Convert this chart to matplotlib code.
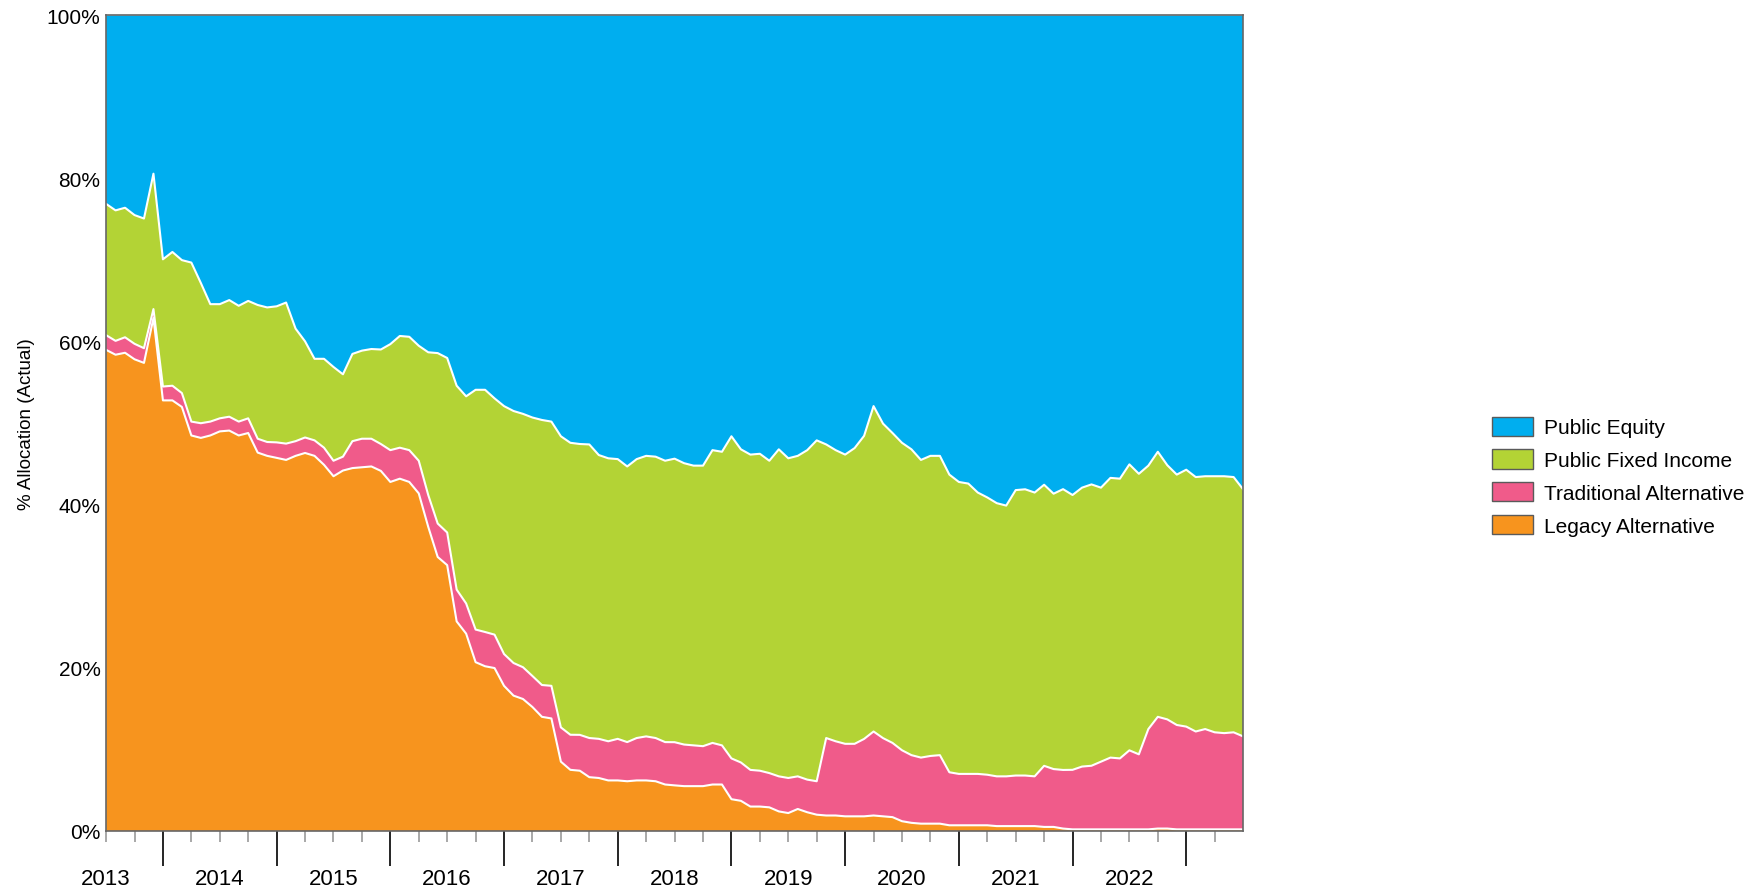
import matplotlib
matplotlib.use("Agg")
import matplotlib.pyplot as plt
from matplotlib.ticker import PercentFormatter
import numpy as np

# monthly allocation (% of total), Jan 2013 .. Jan 2023
legacy = [59.0, 58.4, 58.7, 57.9, 57.4, 62.9, 52.8, 52.8, 52.0, 48.5,
          48.2, 48.5, 49.0, 49.1, 48.5, 48.8, 46.4, 46.0, 45.8, 45.5,
          46.0, 46.4, 46.0, 44.9, 43.5, 44.2, 44.5, 44.6, 44.7, 44.2,
          42.8, 43.2, 42.8, 41.4, 37.3, 33.6, 32.6, 25.7, 24.2, 20.7,
          20.2, 20.0, 17.8, 16.6, 16.2, 15.2, 14.0, 13.8, 8.5, 7.5,
          7.4, 6.6, 6.5, 6.2, 6.2, 6.1, 6.2, 6.2, 6.1, 5.7,
          5.6, 5.5, 5.5, 5.5, 5.7, 5.7, 3.9, 3.7, 3.0, 3.0,
          2.9, 2.4, 2.2, 2.7, 2.3, 2.0, 1.9, 1.9, 1.8, 1.8,
          1.8, 1.9, 1.8, 1.7, 1.2, 1.0, 0.9, 0.9, 0.9, 0.7,
          0.7, 0.7, 0.7, 0.7, 0.6, 0.6, 0.6, 0.6, 0.6, 0.5,
          0.5, 0.3, 0.2, 0.2, 0.2, 0.2, 0.2, 0.2, 0.2, 0.2,
          0.2, 0.3, 0.3, 0.2, 0.2, 0.2, 0.2, 0.2, 0.2, 0.2, 0.2]
traditional = [1.8, 1.7, 1.9, 1.9, 1.8, 1.1, 1.7, 1.8, 1.7, 1.7,
               1.8, 1.7, 1.6, 1.7, 1.7, 1.8, 1.7, 1.7, 1.9, 2.0,
               1.8, 1.9, 1.9, 2.1, 1.9, 1.7, 3.3, 3.5, 3.4, 3.3,
               3.9, 3.8, 3.9, 4.0, 3.9, 4.1, 4.0, 3.9, 3.7, 4.0,
               4.2, 4.1, 3.9, 4.0, 3.9, 3.8, 3.9, 4.0, 4.2, 4.3,
               4.4, 4.8, 4.8, 4.8, 5.1, 4.8, 5.2, 5.4, 5.3, 5.2,
               5.3, 5.1, 5.0, 4.9, 5.1, 4.8, 5.0, 4.7, 4.5, 4.4,
               4.2, 4.3, 4.3, 4.0, 4.0, 4.1, 9.5, 9.1, 8.9, 8.9,
               9.5, 10.3, 9.6, 9.1, 8.7, 8.3, 8.1, 8.3, 8.4, 6.5,
               6.3, 6.3, 6.3, 6.2, 6.1, 6.1, 6.2, 6.2, 6.1, 7.5,
               7.1, 7.2, 7.3, 7.7, 7.8, 8.3, 8.8, 8.7, 9.7, 9.2,
               12.3, 13.7, 13.4, 12.8, 12.6, 12.0, 12.3, 11.9, 11.8, 11.9, 11.4]
fixed_income = [16.1, 16.0, 15.9, 15.8, 15.9, 16.6, 15.6, 16.4, 16.3, 19.5,
                17.2, 14.4, 14.0, 14.3, 14.2, 14.4, 16.4, 16.5, 16.7, 17.3,
                13.8, 11.8, 10.0, 10.9, 11.5, 10.1, 10.7, 10.8, 11.0, 11.6,
                13.0, 13.7, 13.9, 14.1, 17.5, 20.9, 21.4, 25.0, 25.4, 29.4,
                29.7, 29.0, 30.4, 30.9, 31.1, 31.7, 32.5, 32.4, 35.7, 35.8,
                35.7, 36.0, 34.8, 34.7, 34.3, 33.8, 34.2, 34.4, 34.5, 34.5,
                34.8, 34.5, 34.3, 34.4, 35.9, 36.0, 39.5, 38.4, 38.7, 38.9,
                38.3, 40.1, 39.2, 39.3, 40.4, 41.8, 36.0, 35.7, 35.5, 36.3,
                37.2, 39.9, 38.6, 38.0, 37.7, 37.5, 36.5, 36.8, 36.7, 36.5,
                35.8, 35.6, 34.5, 34.0, 33.5, 33.2, 35.0, 35.1, 34.8, 34.5,
                33.8, 34.5, 33.7, 34.2, 34.5, 33.6, 34.3, 34.3, 35.1, 34.4,
                32.3, 32.5, 31.2, 30.7, 31.5, 31.2, 31.0, 31.4, 31.5, 31.3, 30.3]
equity = [23.1, 23.9, 23.6, 24.5, 24.9, 19.4, 29.9, 29.0, 30.0, 30.3,
          32.8, 35.4, 35.4, 34.9, 35.6, 35.0, 35.5, 35.8, 35.7, 35.2,
          38.4, 40.0, 42.1, 42.1, 43.1, 44.0, 41.5, 41.1, 40.9, 41.0,
          40.3, 39.3, 39.4, 40.5, 41.3, 41.4, 42.0, 45.4, 46.7, 45.9,
          45.9, 47.0, 47.9, 48.5, 48.9, 49.3, 49.6, 49.8, 51.6, 52.4,
          52.6, 52.6, 53.9, 54.3, 54.4, 55.3, 54.4, 54.0, 54.1, 54.6,
          54.4, 54.9, 55.2, 55.2, 53.3, 53.5, 51.6, 53.2, 53.9, 53.8,
          54.6, 53.2, 54.3, 54.0, 53.3, 52.1, 52.6, 53.3, 53.9, 53.1,
          51.6, 47.9, 50.1, 51.2, 52.4, 53.2, 54.5, 54.0, 54.0, 56.3,
          57.2, 57.4, 58.5, 59.1, 59.8, 60.1, 58.2, 58.1, 58.5, 57.6,
          58.7, 58.2, 58.8, 57.9, 57.5, 57.9, 56.7, 56.8, 55.1, 56.2,
          55.2, 53.5, 55.2, 56.3, 55.7, 56.6, 56.5, 56.5, 56.5, 56.6, 58.1]

years = [str(y) for y in range(2013, 2023)]
names = ['Legacy Alternative', 'Traditional Alternative',
         'Public Fixed Income', 'Public Equity']
colors = ['#F7941E', '#F05B8A', '#B3D335', '#00AEEF']

months = np.arange(len(legacy))
stack = np.array([legacy, traditional, fixed_income, equity])
stack = stack / stack.sum(axis=0)   # shares of the total

plt.rcParams['font.family'] = ['Liberation Sans', 'DejaVu Sans']

fig = plt.figure(figsize=(17.65, 8.95), dpi=100)
ax = fig.add_axes([0.0601, 0.0704, 0.6442, 0.9112])

ax.stackplot(months, stack, colors=colors, labels=names, linewidth=0)
for edge in np.cumsum(stack, axis=0)[:-1]:
    ax.plot(months, edge, color='white', lw=1.5)

ax.set_xlim(0, months[-1])
ax.set_ylim(0, 1)

# y axis
ax.set_yticks(np.arange(0, 1.01, 0.2))
ax.yaxis.set_major_formatter(PercentFormatter(1.0, decimals=0))
ax.tick_params(axis='y', length=0, pad=4, labelsize=15)
ax.set_ylabel('% Allocation (Actual)', fontsize=13.5)
ax.yaxis.set_label_coords(-0.0625, 0.5)

# x axis: long ticks between years, short quarterly ticks, year labels
ax.set_xticks(np.arange(6, 120, 12))
ax.set_xticks(np.arange(0, 120, 3), minor=True)
ax.tick_params(axis='x', which='major', length=25, width=1.2, color='black',
               labelbottom=False)
ax.tick_params(axis='x', which='minor', length=8, width=1.2, color='#999999')
sec = ax.secondary_xaxis('bottom')
sec.set_xticks(np.arange(0, 120, 12), labels=years)
sec.tick_params(length=0, pad=27, labelsize=16)
sec.spines['bottom'].set_visible(False)

for s in ax.spines.values():
    s.set_color('#666666')
    s.set_linewidth(1.2)

handles, labels = ax.get_legend_handles_labels()
leg = fig.legend(handles[::-1], labels[::-1], loc='center left',
                 bbox_to_anchor=(0.8452, 0.467), bbox_transform=fig.transFigure,
                 frameon=False, borderpad=0, borderaxespad=0,
                 handlelength=1.96, handleheight=1.06, handletextpad=0.53,
                 labelspacing=0.57, prop={'size': 15})
for h in leg.legend_handles:
    h.set_edgecolor('#5a5a5a')
    h.set_linewidth(1)

fig.savefig('out.png', dpi=100)
